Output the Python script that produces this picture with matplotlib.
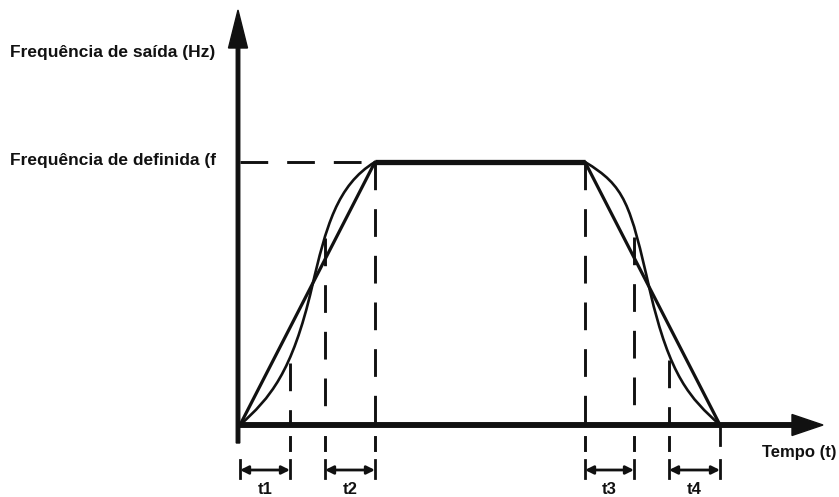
import matplotlib.pyplot as plt
from matplotlib.path import Path
from matplotlib.patches import PathPatch

plt.rcParams['font.family'] = ['Liberation Sans', 'DejaVu Sans']

# pontos de tempo (início, fim de t1, início/fim de t2, ...) e frequência definida
t_marks = [0, 50, 85, 135, 345, 394, 429, 480]
f_set = 263

# rampa linear
lin_t = [0, 135, 345, 480]
lin_f = [0, 263, 263, 0]

# curva S (aceleração): pontos de controle Bezier cúbicos
s_acc_t = [0, 30, 52, 72, 86, 97, 135]
s_acc_f = [0, 27, 52, 138, 198, 240, 263]

# curva S (desaceleração): pontos de controle Bezier cúbicos
s_dec_t = [345, 385, 390, 410, 430, 450, 480]
s_dec_f = [263, 239, 222, 134, 48, 27, 0]

# altura onde começa cada linha tracejada vertical
dash_t = [50, 85, 135, 345, 394, 429]
dash_top = [62, 187, 263, 263, 188, 65]

intervals = [(0, 50), (85, 135), (345, 394), (429, 480)]
interval_labels = ['t1', 't2', 't3', 't4']

ink = '#111111'

fig = plt.figure(figsize=(8.39, 4.97), dpi=100)
ax = fig.add_axes([0, 0, 1, 1])
ax.set_xlim(-240, 599)
ax.set_ylim(-72, 425)
ax.axis('off')

dash = (0, (9.5, 6.5))

# eixos com setas
ax.arrow(-2, -18, 0, 433, width=3.5, head_width=19, head_length=38,
         length_includes_head=True, color=ink, zorder=3)
ax.arrow(-2, 0, 585, 0, width=4.5, head_width=21, head_length=31,
         length_includes_head=True, color=ink, zorder=3)
ax.plot([480, 480], [0, -20], color=ink, lw=2)

# tracejados
ax.plot([0, 135], [f_set, f_set], color=ink, lw=2.1, linestyle=dash)
for t, top in zip(dash_t, dash_top):
    ax.plot([t, t], [top, 0], color=ink, lw=2.1, linestyle=dash)
    ax.plot([t, t], [-12, -25], color=ink, lw=2.1)

# rampa linear e patamar
ax.plot(lin_t[:2], lin_f[:2], color=ink, lw=2.3, solid_capstyle='round')
ax.plot(lin_t[2:], lin_f[2:], color=ink, lw=2.3, solid_capstyle='round')
ax.plot(lin_t[1:3], lin_f[1:3], color=ink, lw=3.8, solid_capstyle='butt')

# curvas S
codes = [Path.MOVETO] + [Path.CURVE4] * 6
for ts, fs in [(s_acc_t, s_acc_f), (s_dec_t, s_dec_f)]:
    path = Path(list(zip(ts, fs)), codes)
    ax.add_patch(PathPatch(path, facecolor='none', edgecolor=ink, lw=1.9))

# intervalos t1..t4
for (a, b), lab in zip(intervals, interval_labels):
    ax.plot([a, a], [-35, -53], color=ink, lw=2)
    ax.plot([b, b], [-35, -53], color=ink, lw=2)
    ax.annotate('', xy=(b, -45), xytext=(a, -45),
                arrowprops=dict(arrowstyle='<|-|>', color=ink, lw=2,
                                shrinkA=0, shrinkB=0, mutation_scale=12))
    ax.text((a + b) / 2, -65, lab, ha='center', va='center',
            fontsize=12, fontweight='bold', color=ink)

# textos
ax.text(-230, 372, 'Frequência de saída (Hz)', ha='left', va='center',
        fontsize=12.5, fontweight='bold', color=ink)
ax.text(-230, 265, 'Frequência de definida (f', ha='left', va='center',
        fontsize=12.5, fontweight='bold', color=ink)
ax.text(522, -27, 'Tempo (t)', ha='left', va='center',
        fontsize=12, fontweight='bold', color=ink)

fig.savefig('out.png', dpi=100)
